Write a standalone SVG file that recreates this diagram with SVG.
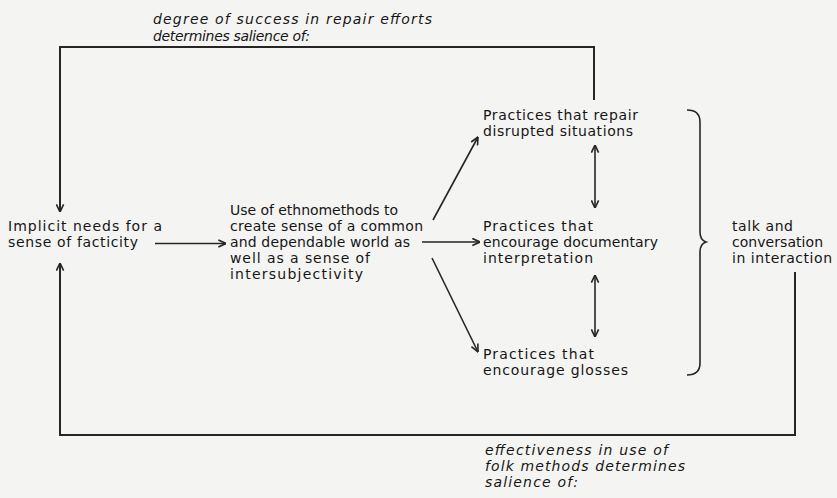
<svg xmlns="http://www.w3.org/2000/svg" width="837" height="498" viewBox="0 0 837 498">
  <style>
    .lbl { font-family: "DejaVu Sans", "Liberation Sans", sans-serif; font-size: 14px; fill: #161616; }
    .note { font-family: "DejaVu Sans", "Liberation Sans", sans-serif; font-size: 14px; font-style: italic; fill: #161616; }
    .ln { fill: none; stroke: #262626; stroke-width: 1.6; }
    .bold { stroke-width: 2; }
  </style>
  <defs>
    <marker id="arr" viewBox="0 0 10 10" refX="9.5" refY="5" markerWidth="9" markerHeight="9" orient="auto-start-reverse" markerUnits="userSpaceOnUse">
      <path d="M1,1 L9.5,5 L1,9" fill="none" stroke="#262626" stroke-width="1.8" stroke-linejoin="miter"/>
    </marker>
  </defs>

  <rect x="0" y="0" width="837" height="498" fill="#f4f4f2"/>

  <!-- feedback notes -->
  <g id="note-repair">
    <text class="note" x="153" y="24" textLength="279" lengthAdjust="spacing">degree of success in repair efforts</text>
    <text class="note" x="153" y="41" textLength="157" lengthAdjust="spacing">determines salience of:</text>
  </g>
  <g id="note-folk">
    <text class="note" x="485" y="455" textLength="183" lengthAdjust="spacing">effectiveness in use of</text>
    <text class="note" x="485" y="471" textLength="200" lengthAdjust="spacing">folk methods determines</text>
    <text class="note" x="485" y="487" textLength="93" lengthAdjust="spacing">salience of:</text>
  </g>

  <!-- nodes -->
  <g id="needs">
    <text class="lbl" x="8" y="231" textLength="154" lengthAdjust="spacing">Implicit needs for a</text>
    <text class="lbl" x="8" y="247" textLength="130" lengthAdjust="spacing">sense of facticity</text>
  </g>
  <g id="ethnomethods">
    <text class="lbl" x="230" y="215" textLength="168" lengthAdjust="spacing">Use of ethnomethods to</text>
    <text class="lbl" x="230" y="231" textLength="193" lengthAdjust="spacing">create sense of a common</text>
    <text class="lbl" x="230" y="247" textLength="180" lengthAdjust="spacing">and dependable world as</text>
    <text class="lbl" x="230" y="263" textLength="140" lengthAdjust="spacing">well as a sense of</text>
    <text class="lbl" x="230" y="279" textLength="133" lengthAdjust="spacing">intersubjectivity</text>
  </g>
  <g id="repair">
    <text class="lbl" x="483" y="120" textLength="155" lengthAdjust="spacing">Practices that repair</text>
    <text class="lbl" x="483" y="136" textLength="150" lengthAdjust="spacing">disrupted situations</text>
  </g>
  <g id="documentary">
    <text class="lbl" x="483" y="231" textLength="110" lengthAdjust="spacing">Practices that</text>
    <text class="lbl" x="483" y="247" textLength="175" lengthAdjust="spacing">encourage documentary</text>
    <text class="lbl" x="483" y="263" textLength="110" lengthAdjust="spacing">interpretation</text>
  </g>
  <g id="glosses">
    <text class="lbl" x="483" y="359" textLength="111" lengthAdjust="spacing">Practices that</text>
    <text class="lbl" x="483" y="375" textLength="145" lengthAdjust="spacing">encourage glosses</text>
  </g>
  <g id="talk">
    <text class="lbl" x="732" y="231" textLength="61" lengthAdjust="spacing">talk and</text>
    <text class="lbl" x="732" y="247" textLength="91" lengthAdjust="spacing">conversation</text>
    <text class="lbl" x="732" y="263" textLength="100" lengthAdjust="spacing">in interaction</text>
  </g>

  <!-- connectors -->
  <g id="connectors">
    <path class="ln bold" d="M594,100 V47 H60 V212" marker-end="url(#arr)"/>
    <path class="ln bold" d="M795,272 V435 H60 V263" marker-end="url(#arr)"/>
    <path class="ln" d="M155,243.5 H226" marker-end="url(#arr)"/>
    <path class="ln" d="M433,220 L478,137" marker-end="url(#arr)"/>
    <path class="ln" d="M422,242 H480" marker-end="url(#arr)"/>
    <path class="ln" d="M432,258 L478,352" marker-end="url(#arr)"/>
    <path class="ln" d="M595,145 V208" marker-start="url(#arr)" marker-end="url(#arr)"/>
    <path class="ln" d="M595,275 V337" marker-start="url(#arr)" marker-end="url(#arr)"/>
    <!-- brace grouping the three practices -->
    <path class="ln" d="M687,110 Q700,110 700,122 V232 Q700,240 706,242 Q700,244 700,252 V363 Q700,375 687,375"/>
  </g>
</svg>
